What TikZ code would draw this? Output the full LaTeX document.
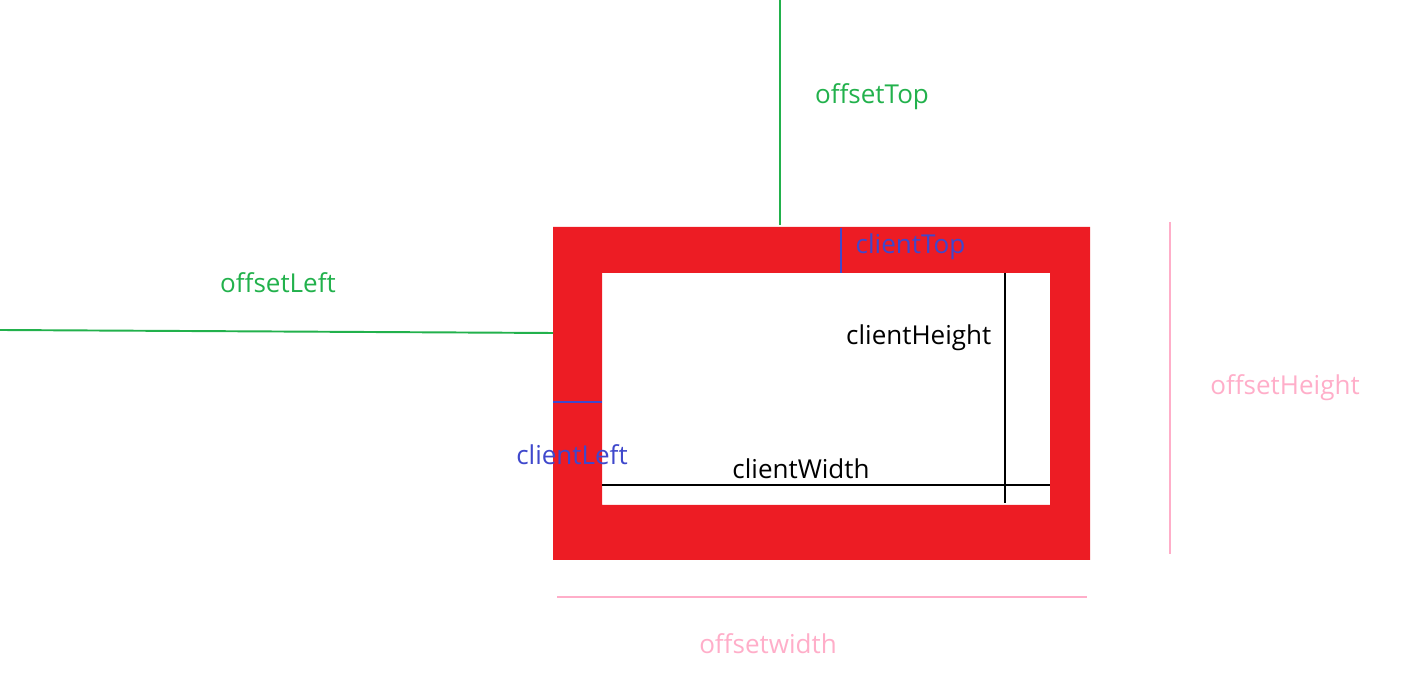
\documentclass[tikz,border=0pt]{standalone}
\usepackage{fontspec}
\setmainfont{Open Sans}
\usepackage{tikz}
\definecolor{boxred}{HTML}{ED1C24}
\definecolor{offgreen}{HTML}{22B14C}
\definecolor{cliblue}{HTML}{3F48CC}
\definecolor{offpink}{HTML}{FFAEC9}
\begin{document}
\begin{tikzpicture}[x=0.01cm,y=-0.01cm]
\tikzstyle{lbl}=[inner sep=0pt, font=\fontsize{7.4}{9}\selectfont]
\tikzstyle{mline}=[line width=0.55pt]
\useasboundingbox (0,0) rectangle (1407,674);
\fill[boxred, even odd rule] (553,227) rectangle (1090,560) (602,273) rectangle (1050,505);

\coordinate (T1) at (780,0);
\coordinate (T2) at (780,225);
\coordinate (L1) at (0,330);
\coordinate (L2) at (553,333);
\coordinate (CT1) at (841,228);
\coordinate (CT2) at (841,273);
\coordinate (CL1) at (553,402);
\coordinate (CL2) at (602,402);
\coordinate (CH1) at (1005,273);
\coordinate (CH2) at (1005,503);
\coordinate (CW1) at (602,485);
\coordinate (CW2) at (1050,485);
\coordinate (OH1) at (1170,222);
\coordinate (OH2) at (1170,554);
\coordinate (OW1) at (557,597);
\coordinate (OW2) at (1087,597);

\draw[mline, offgreen] (T1)--(T2);
\draw[mline, offgreen] (L1)--(L2);
\draw[mline, cliblue] (CT1)--(CT2);
\draw[mline, cliblue] (CL1)--(CL2);
\draw[mline, black] (CH1)--(CH2);
\draw[mline, black] (CW1)--(CW2);
\draw[mline, offpink] (OH1)--(OH2);
\draw[mline, offpink] (OW1)--(OW2);

\node[lbl, offgreen] (offTop) at (872,97) {offsetTop};
\node[lbl, offgreen] (offLeft) at (278,283) {offsetLeft};
\node[lbl, cliblue, anchor=west] (cliTop) at (855,247) {clientTop};
\node[lbl, cliblue] (cliLeft) at (572,455) {clientLeft};
\node[lbl, anchor=east] (cliHeight) at (992,338) {clientHeight};
\node[lbl] (cliWidth) at (801,469) {clientWidth};
\node[lbl, offpink] (offHeight) at (1285,388) {offsetHeight};
\node[lbl, offpink] (offWidth) at (768,644) {offsetwidth};
\end{tikzpicture}
\end{document}
